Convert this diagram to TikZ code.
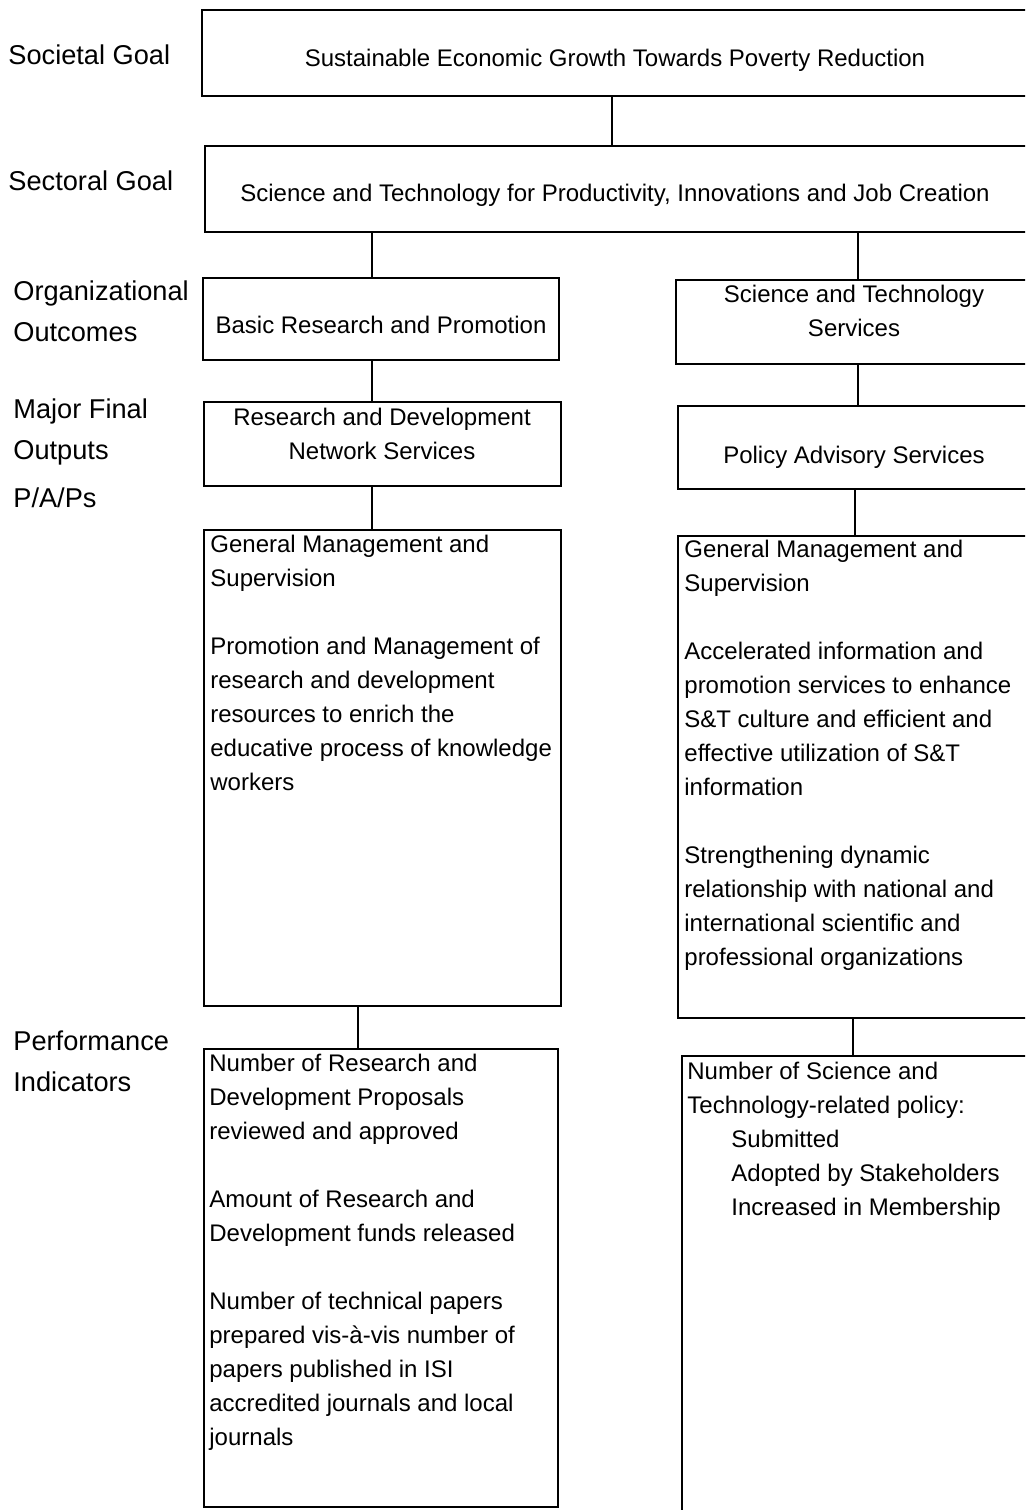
\documentclass[tikz,border=0pt]{standalone}
\usepackage{fontspec}
\setmainfont{Liberation Sans}
\tikzset{
  box/.style={draw, line width=1pt, anchor=north west, inner sep=0pt},
  link/.style={line width=1pt},
  lvl/.style={anchor=base west, inner sep=0pt, align=left, font=\fontsize{13.6}{20.5}\selectfont},
  ctext/.style={inner sep=0pt, align=center, font=\fontsize{12}{17}\selectfont},
  ltext/.style={anchor=north west, inner sep=0pt, align=left, font=\fontsize{12}{17}\selectfont},
}
\begin{document}
\begin{tikzpicture}[x=0.5pt, y=-0.5pt]
  \useasboundingbox (0,0) rectangle (1025,1510);
  \clip (0,0) rectangle (1025,1510);
  % level labels
  \node[lvl] (l-soc) at (8,64) {Societal Goal};
  \node[lvl] (l-sec) at (8,190) {Sectoral Goal};
  \node[lvl, anchor=north west] (l-org) at (13,280) {Organizational\\Outcomes};
  \node[lvl, anchor=north west] (l-mfo) at (13,398) {Major Final\\Outputs};
  \node[lvl] (l-pap) at (13,507) {P/A/Ps};
  \node[lvl, anchor=north west] (l-pi) at (13,1030) {Performance\\Indicators};
  % boxes
  \node[box, minimum width=414pt, minimum height=43pt] (soc) at (201,9) {};
  \node[box, minimum width=412.5pt, minimum height=43pt] (sec) at (204,145) {};
  \node[box, minimum width=178pt, minimum height=41pt] (bas) at (202,277) {};
  \node[box, minimum width=177pt, minimum height=42pt] (sts) at (675,279) {};
  \node[box, minimum width=178.5pt, minimum height=42pt] (rnd) at (203,401) {};
  \node[box, minimum width=178pt, minimum height=41.5pt] (pol) at (677,405) {};
  \node[box, minimum width=178.5pt, minimum height=238pt] (papL) at (203,529) {};
  \node[box, minimum width=178pt, minimum height=241pt] (papR) at (677,535) {};
  \node[box, minimum width=177pt, minimum height=229pt] (piL) at (203,1048) {};
  \node[box, minimum width=179.5pt, minimum height=240pt] (piR) at (681,1055) {};
  % box texts
  \node[ctext, anchor=base] (soc-t) at (615,66) {Sustainable Economic Growth Towards Poverty Reduction};
  \node[ctext, anchor=base] (sec-t) at (615,201) {Science and Technology for Productivity, Innovations and Job Creation};
  \node[ctext, anchor=base] (bas-t) at (381,333) {Basic Research and Promotion};
  \node[ctext, anchor=north] (sts-t) at (854,285) {Science and Technology\\Services};
  \node[ctext, anchor=north] (rnd-t) at (382,408) {Research and Development\\Network Services};
  \node[ctext, anchor=base] (pol-t) at (854,463) {Policy Advisory Services};
  \node[ltext] (papL-t) at (210,535) {General Management and\\Supervision\\[17pt]Promotion and Management of\\research and development\\resources to enrich the\\educative process of knowledge\\workers};
  \node[ltext] (papR-t) at (684,540) {General Management and\\Supervision\\[17pt]Accelerated information and\\promotion services to enhance\\S\&T culture and efficient and\\effective utilization of S\&T\\information\\[17pt]Strengthening dynamic\\relationship with national and\\international scientific and\\professional organizations};
  \node[ltext] (piL-t) at (209,1054) {Number of Research and\\Development Proposals\\reviewed and approved\\[17pt]Amount of Research and\\Development funds released\\[17pt]Number of technical papers\\prepared vis-à-vis number of\\papers published in ISI\\accredited journals and local\\journals};
  \node[ltext] (piR-t) at (687,1062) {Number of Science and\\Technology-related policy:\\\hspace*{22pt}Submitted\\\hspace*{22pt}Adopted by Stakeholders\\\hspace*{22pt}Increased in Membership};
  % connectors
  \draw[link] (soc.south -| 612,0) -- (sec.north -| 612,0);
  \draw[link] (sec.south -| 372,0) -- (bas.north -| 372,0);
  \draw[link] (sec.south -| 858,0) -- (sts.north -| 858,0);
  \draw[link] (bas.south -| 372,0) -- (rnd.north -| 372,0);
  \draw[link] (sts.south -| 858,0) -- (pol.north -| 858,0);
  \draw[link] (rnd.south -| 372,0) -- (papL.north -| 372,0);
  \draw[link] (pol.south -| 855,0) -- (papR.north -| 855,0);
  \draw[link] (papL.south -| 358,0) -- (piL.north -| 358,0);
  \draw[link] (papR.south -| 853,0) -- (piR.north -| 853,0);
\end{tikzpicture}
\end{document}
